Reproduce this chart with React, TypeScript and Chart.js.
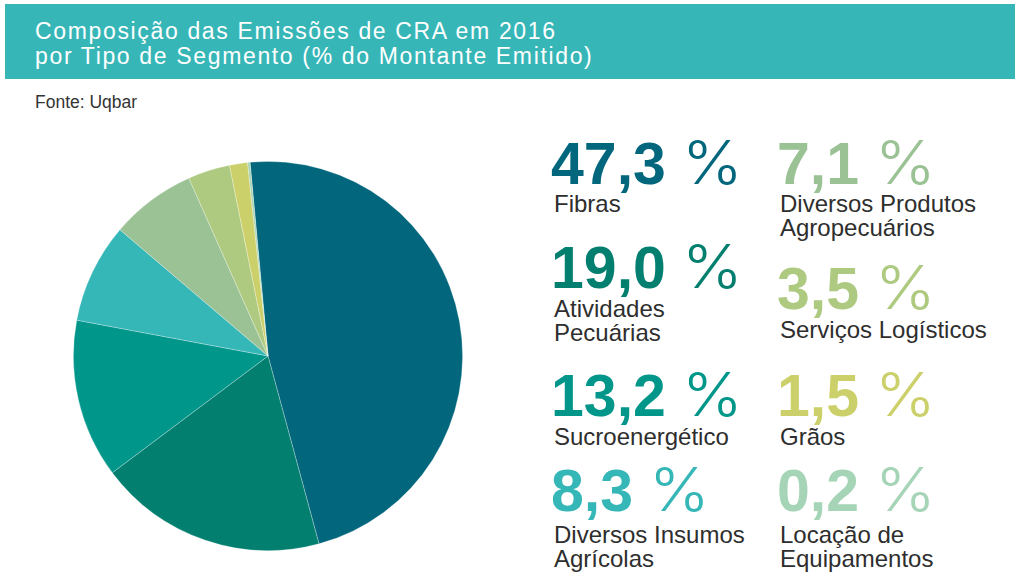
import React, { useEffect, useRef } from "react";
import { Chart, registerables } from "chart.js";

Chart.register(...registerables);

// ---- Data ----
const titleLines = [
  "Composição das Emissões de CRA em 2016",
  "por Tipo de Segmento (% do Montante Emitido)",
];
const sourceText = "Fonte: Uqbar";

const categoryLines: string[][] = [
  ["Fibras"],
  ["Atividades", "Pecuárias"],
  ["Sucroenergético"],
  ["Diversos Insumos", "Agrícolas"],
  ["Diversos Produtos", "Agropecuários"],
  ["Serviços Logísticos"],
  ["Grãos"],
  ["Locação de", "Equipamentos"],
];
const categories = categoryLines.map((l) => l.join(" "));
const shares = [47.3, 19.0, 13.2, 8.3, 7.1, 3.5, 1.5, 0.2];
const colors = [
  "#02667c",
  "#037f70",
  "#00968a",
  "#35b6b7",
  "#9ac294",
  "#aeca80",
  "#ccd06a",
  "#a5d4b6",
];

// ---- Layout (positions only) ----
const FONT = '"Liberation Sans", Arial, Helvetica, sans-serif';
const THIN = 'Inter, "Liberation Sans", sans-serif';
const NUM_FS = 59;
const LBL_FS = 24;
// [left, number baseline, label first baseline]
const legendPos: [number, number, number][] = [
  [551, 183, 212],
  [551, 287, 317],
  [551, 415, 445],
  [551, 510, 543],
  [777, 183, 212],
  [777, 308, 338],
  [777, 415, 445],
  [777, 510, 543],
];
const asc = (fs: number) => fs * (0.905 - (1.117 - 1) / 2);

function fmt(v: number) {
  return v.toFixed(1).replace(".", ",");
}

export default function App() {
  const ref = useRef<HTMLCanvasElement | null>(null);

  useEffect(() => {
    if (!ref.current) return;
    const chart = new Chart(ref.current, {
      type: "pie",
      data: {
        labels: categories,
        datasets: [
          {
            data: shares,
            backgroundColor: colors,
            borderColor: "rgba(255,255,255,0.35)",
            borderWidth: 0.8,
          },
        ],
      },
      options: {
        responsive: false,
        maintainAspectRatio: false,
        animation: false,
        rotation: -5.3,
        layout: { padding: 0 },
        plugins: {
          legend: { display: false },
          tooltip: { enabled: false },
        },
      },
    });
    return () => chart.destroy();
  }, []);

  return (
    <div
      style={{
        position: "fixed",
        left: 0,
        top: 0,
        width: 1024,
        height: 588,
        background: "#ffffff",
        fontFamily: FONT,
        overflow: "hidden",
      }}
    >
      <div
        style={{
          position: "absolute",
          left: 5,
          top: 4,
          width: 1010,
          height: 75,
          background: "#37b6b7",
        }}
      />
      {titleLines.map((t, i) => (
        <div
          key={i}
          style={{
            position: "absolute",
            left: 35,
            top: 39 + i * 25 - asc(23),
            fontSize: 23,
            lineHeight: "23px",
            letterSpacing: "1.65px",
            color: "#ffffff",
            whiteSpace: "nowrap",
          }}
        >
          {t}
        </div>
      ))}
      <div
        style={{
          position: "absolute",
          left: 35,
          top: 108 - asc(17.5),
          fontSize: 17.5,
          lineHeight: "18px",
          color: "#333333",
          whiteSpace: "nowrap",
        }}
      >
        {sourceText}
      </div>

      <canvas
        ref={ref}
        width={390}
        height={390}
        style={{ position: "absolute", left: 73, top: 161, width: 390, height: 390 }}
      />

      {shares.map((v, i) => {
        const [x, nb, lb] = legendPos[i];
        return (
          <React.Fragment key={i}>
            <div
              style={{
                position: "absolute",
                left: x,
                top: nb - asc(NUM_FS),
                fontSize: NUM_FS,
                lineHeight: NUM_FS + "px",
                color: colors[i],
                whiteSpace: "nowrap",
              }}
            >
              <span style={{ fontWeight: 700 }}>{fmt(v)}</span>
              <span style={{ fontWeight: 700 }}> </span>
              <span
                style={{
                  fontFamily: THIN,
                  fontWeight: 300,
                  fontSize: 60,
                  display: "inline-block",
                  transform: "scaleX(1.08)",
                  transformOrigin: "left bottom",
                }}
              >
                %
              </span>
            </div>
            {categoryLines[i].map((line, j) => (
              <div
                key={j}
                style={{
                  position: "absolute",
                  left: x + 3,
                  top: lb + j * 24 - asc(LBL_FS),
                  fontSize: LBL_FS,
                  lineHeight: LBL_FS + "px",
                  color: "#2e2e2e",
                  whiteSpace: "nowrap",
                }}
              >
                {line}
              </div>
            ))}
          </React.Fragment>
        );
      })}
    </div>
  );
}
